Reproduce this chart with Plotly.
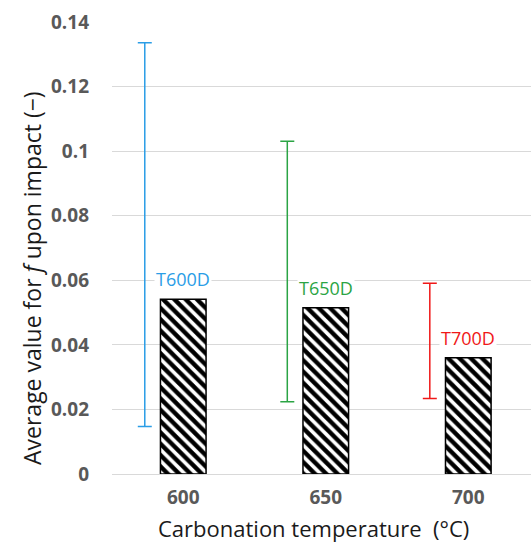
import plotly.graph_objects as go

# Carbonation temperatures and sample names
temperatures = ["600", "650", "700"]
samples = ["T600D", "T650D", "T700D"]
sample_colors = ["#2A9DE6", "#2BA444", "#F01818"]

# Average f upon impact, with the observed min / max range
avg_f = [0.0541, 0.0515, 0.0360]
min_f = [0.0147, 0.0224, 0.0234]
max_f = [0.1336, 0.1031, 0.0591]

y_ticks = [0, 0.02, 0.04, 0.06, 0.08, 0.1, 0.12, 0.14]
y_tick_text = ["0", "0.02", "0.04", "0.06", "0.08", "0.1", "0.12", "0.14"]

xpos = list(range(len(temperatures)))
range_offset = -0.27  # range bars sit just left of each column

fig = go.Figure()

fig.add_trace(go.Bar(
    x=xpos,
    y=avg_f,
    width=0.32,
    marker=dict(
        color="white",
        line=dict(color="black", width=1.5),
        pattern=dict(shape="\\", size=8, solidity=0.55, fgcolor="black",
                     bgcolor="white", fgopacity=1),
    ),
    showlegend=False,
))

for i in xpos:
    fig.add_trace(go.Scatter(
        x=[i + range_offset],
        y=[avg_f[i]],
        mode="markers",
        marker=dict(size=0.1, color="rgba(0,0,0,0)"),
        error_y=dict(
            type="data",
            symmetric=False,
            array=[max_f[i] - avg_f[i]],
            arrayminus=[avg_f[i] - min_f[i]],
            color=sample_colors[i],
            thickness=1.5,
            width=7,
        ),
        showlegend=False,
        hoverinfo="skip",
    ))
    fig.add_annotation(
        x=i, y=avg_f[i], xref="x", yref="y",
        text=samples[i], showarrow=False,
        yshift=20, bgcolor="white",
        font=dict(family="Open Sans", size=18, color=sample_colors[i]),
    )

# Axis titles
fig.add_annotation(
    x=0, y=0.5, xref="paper", yref="paper",
    xshift=-98, yshift=-30, textangle=-90,
    text="Average value for <i>f</i> upon impact (\u2212)",
    showarrow=False,
    font=dict(family="Open Sans", size=23, color="#1a1a1a"),
)
fig.add_annotation(
    x=0.5, y=0, xref="paper", yref="paper",
    xshift=-8, yshift=-54, yanchor="middle",
    text="Carbonation temperature  (°C)",
    showarrow=False,
    font=dict(family="Open Sans", size=22, color="#1a1a1a"),
)

fig.update_layout(
    width=531, height=545,
    margin=dict(l=112, r=0, t=22, b=71),
    paper_bgcolor="white",
    plot_bgcolor="white",
    xaxis=dict(
        range=[-0.5, 2.44],
        tickmode="array",
        tickvals=xpos,
        ticktext=temperatures,
        showgrid=False,
        zeroline=False,
        showline=False,
        ticks="",
        ticklabelstandoff=10,
        tickfont=dict(family="Open Sans", size=19, color="#595959", weight="bold"),
    ),
    yaxis=dict(
        range=[0, 0.14],
        tickmode="array",
        tickvals=y_ticks,
        ticktext=y_tick_text,
        showgrid=True,
        gridcolor="#d9d9d9",
        gridwidth=1,
        zeroline=True,
        zerolinecolor="#d9d9d9",
        zerolinewidth=1,
        showline=False,
        ticks="",
        ticklabelstandoff=22,
        tickfont=dict(family="Open Sans", size=19, color="#595959", weight="bold"),
    ),
)

fig.write_html("out.html")
